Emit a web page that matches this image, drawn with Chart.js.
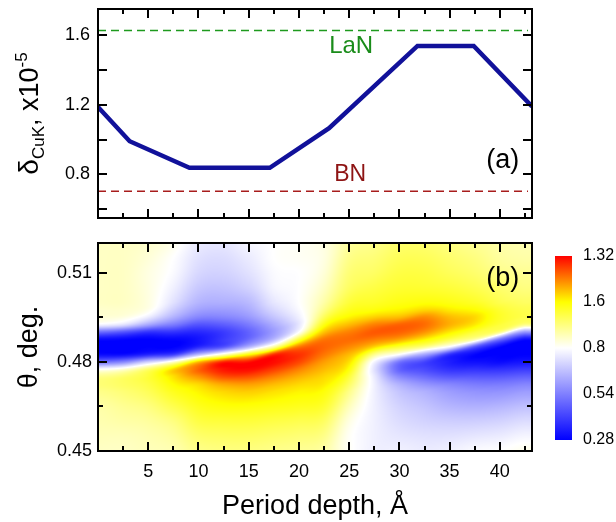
<!DOCTYPE html>
<html><head><meta charset="utf-8">
<script src="https://cdn.jsdelivr.net/npm/chart.js@4.4.1/dist/chart.umd.min.js"></script>
<style>
html,body{margin:0;padding:0;background:#fff;}
#wrap{position:relative;width:616px;height:522px;overflow:hidden;background:#fff;}
canvas{position:absolute;}
</style></head><body>
<div id="wrap">
<canvas id="cA" width="616" height="232" style="left:0;top:0;width:616px;height:232px"></canvas>
<canvas id="cB" width="616" height="290" style="left:0;top:232px;width:616px;height:290px"></canvas>
<canvas id="cC" width="76" height="220" style="left:540px;top:240px;width:76px;height:220px"></canvas>
</div>
<script>
// ---------- data: panel (a) ----------
const depth = [0, 3.15, 9.1, 17.1, 23.0, 31.8, 37.4, 43.2];
const delta = [1.187, 0.991, 0.838, 0.838, 1.066, 1.538, 1.538, 1.19];
const refNames = ['LaN', 'BN'];
const refDelta = [1.627, 0.703];
const refSpan = [0, 42.8];

// ---------- axes ticks ----------
const xTicks = [2.5, 5, 7.5, 10, 12.5, 15, 17.5, 20, 22.5, 25, 27.5, 30, 32.5, 35, 37.5, 40, 42.5];
const xLabels = ['', '5', '', '10', '', '15', '', '20', '', '25', '', '30', '', '35', '', '40', ''];
const aYTicks = [0.6, 0.8, 1.0, 1.2, 1.4, 1.6];
const aYLabels = ['', '0.8', '', '1.2', '', '1.6'];
const bYTicks = [0.45, 0.465, 0.48, 0.495, 0.51];
const bYLabels = ['0.45', '', '0.48', '', '0.51'];

// ---------- data: panel (b) map (values read per column, rows bottom -> top) ----------
const heatX = [0, 2.5, 5, 7.5, 10, 12.5, 15, 17.5, 20, 22.5, 25, 27.5, 30, 32.5, 35, 37.5, 40, 42.5];
const heatY = [0.450, 0.455, 0.460, 0.465, 0.470, 0.4725, 0.475, 0.4775, 0.480, 0.4825, 0.485,
               0.4875, 0.490, 0.4925, 0.495, 0.4975, 0.500, 0.505, 0.510, 0.515, 0.520];
const heatCols = [
  [0.86, 0.87, 0.88, 0.89, 0.92, 0.94, 0.92, 0.80, 0.50, 0.30, 0.28, 0.30, 0.50, 0.78, 0.84, 0.85, 0.86, 0.86, 0.86, 0.86, 0.86],
  [0.86, 0.87, 0.89, 0.91, 0.94, 0.96, 0.95, 0.84, 0.55, 0.30, 0.28, 0.29, 0.45, 0.74, 0.83, 0.85, 0.86, 0.86, 0.86, 0.86, 0.86],
  [0.87, 0.88, 0.90, 0.93, 0.97, 0.99, 1.00, 0.95, 0.70, 0.35, 0.28, 0.28, 0.38, 0.62, 0.76, 0.82, 0.83, 0.83, 0.83, 0.84, 0.85],
  [0.88, 0.90, 0.93, 0.98, 1.03, 1.06, 1.09, 1.10, 0.85, 0.40, 0.28, 0.29, 0.38, 0.53, 0.64, 0.70, 0.74, 0.77, 0.79, 0.80, 0.82],
  [0.92, 0.95, 0.99, 1.03, 1.07, 1.10, 1.17, 1.22, 1.12, 0.65, 0.36, 0.32, 0.36, 0.45, 0.55, 0.61, 0.65, 0.69, 0.72, 0.74, 0.76],
  [0.93, 0.96, 1.00, 1.05, 1.10, 1.15, 1.24, 1.30, 1.28, 0.85, 0.45, 0.40, 0.40, 0.47, 0.55, 0.60, 0.64, 0.68, 0.71, 0.73, 0.75],
  [0.93, 0.96, 1.00, 1.05, 1.11, 1.16, 1.24, 1.31, 1.30, 1.05, 0.65, 0.50, 0.48, 0.53, 0.59, 0.63, 0.66, 0.71, 0.74, 0.76, 0.78],
  [0.92, 0.95, 0.99, 1.04, 1.09, 1.13, 1.19, 1.26, 1.31, 1.27, 0.90, 0.66, 0.60, 0.63, 0.68, 0.72, 0.75, 0.78, 0.79, 0.80, 0.80],
  [0.91, 0.94, 0.98, 1.03, 1.07, 1.10, 1.14, 1.19, 1.25, 1.27, 1.20, 1.00, 0.80, 0.75, 0.77, 0.79, 0.80, 0.80, 0.80, 0.81, 0.81],
  [0.89, 0.92, 0.96, 1.01, 1.05, 1.08, 1.10, 1.13, 1.16, 1.20, 1.22, 1.20, 1.12, 1.04, 0.97, 0.92, 0.89, 0.86, 0.84, 0.83, 0.83],
  [0.81, 0.81, 0.83, 0.87, 0.92, 0.96, 1.00, 1.05, 1.09, 1.13, 1.18, 1.21, 1.19, 1.13, 1.07, 1.03, 1.00, 0.96, 0.94, 0.92, 0.90],
  [0.77, 0.77, 0.77, 0.77, 0.77, 0.77, 0.76, 0.74, 0.78, 0.92, 1.10, 1.19, 1.23, 1.19, 1.11, 1.05, 1.02, 0.99, 0.96, 0.94, 0.92],
  [0.77, 0.75, 0.73, 0.71, 0.68, 0.64, 0.56, 0.48, 0.52, 0.80, 1.00, 1.15, 1.22, 1.22, 1.13, 1.07, 1.04, 1.01, 0.99, 0.97, 0.95],
  [0.76, 0.74, 0.71, 0.68, 0.64, 0.58, 0.50, 0.43, 0.42, 0.62, 0.92, 1.07, 1.17, 1.21, 1.18, 1.10, 1.05, 1.01, 0.99, 0.97, 0.95],
  [0.77, 0.74, 0.70, 0.65, 0.60, 0.55, 0.46, 0.38, 0.34, 0.38, 0.78, 0.98, 1.08, 1.14, 1.13, 1.08, 1.04, 1.00, 0.97, 0.95, 0.93],
  [0.79, 0.75, 0.70, 0.64, 0.58, 0.53, 0.46, 0.38, 0.31, 0.29, 0.45, 0.88, 1.00, 1.08, 1.10, 1.06, 1.02, 0.98, 0.95, 0.93, 0.91],
  [0.80, 0.76, 0.71, 0.65, 0.58, 0.53, 0.46, 0.38, 0.30, 0.28, 0.29, 0.50, 0.92, 1.00, 1.02, 1.01, 0.98, 0.95, 0.92, 0.90, 0.89],
  [0.82, 0.78, 0.73, 0.67, 0.60, 0.55, 0.48, 0.40, 0.32, 0.28, 0.28, 0.30, 0.58, 0.92, 0.98, 0.98, 0.96, 0.93, 0.91, 0.89, 0.88]
];
// drift of the main ridge/edge of the map from column to column
const ridgeY = [0.4774, 0.4781, 0.4790, 0.4802, 0.4818, 0.4828, 0.4840, 0.4860, 0.4882,
                0.4906, 0.4930, 0.4953, 0.4969, 0.4983, 0.4998, 0.5013, 0.5034, 0.5057];

// ---------- colour scale ----------
const cbTicks = [0.28, 0.54, 0.8, 1.06, 1.32];
const cbLabels = ['0.28', '0.54', '0.8', '1.6', '1.32'];
const cbStops = [0.28, 0.8, 1.06, 1.32];
const cbColors = [[0, 0, 255], [255, 255, 255], [255, 255, 0], [255, 0, 0]];

// ---------- helpers ----------
const FONT = "'Liberation Sans', Arial, Helvetica, sans-serif";
Chart.defaults.font.family = FONT;
Chart.defaults.color = '#000';
Chart.defaults.animation = false;

function fixAxis(width, height) {
  return s => {
    if (width != null) s.width = width;
    if (height != null) s.height = height;
    s.paddingTop = 0; s.paddingBottom = 0; s.paddingLeft = 0; s.paddingRight = 0;
  };
}
function setTicks(arr) { return s => { s.ticks = arr.map(v => ({ value: v })); }; }

function colorOf(v) {
  if (v <= cbStops[0]) return cbColors[0];
  const n = cbStops.length;
  if (v >= cbStops[n - 1]) return cbColors[n - 1];
  let k = 0;
  while (v > cbStops[k + 1]) k++;
  const t = (v - cbStops[k]) / (cbStops[k + 1] - cbStops[k]);
  const a = cbColors[k], b = cbColors[k + 1];
  return [a[0] + (b[0] - a[0]) * t, a[1] + (b[1] - a[1]) * t, a[2] + (b[2] - a[2]) * t];
}
function fracIndex(arr, v) {
  const n = arr.length;
  if (v <= arr[0]) return 0;
  if (v >= arr[n - 1]) return n - 1;
  let i = 0;
  while (arr[i + 1] < v) i++;
  return i + (v - arr[i]) / (arr[i + 1] - arr[i]);
}
function cr(p0, p1, p2, p3, t) {
  return 0.5 * (2 * p1 + (-p0 + p2) * t + (2 * p0 - 5 * p1 + 4 * p2 - p3) * t * t + (-p0 + 3 * p1 - 3 * p2 + p3) * t * t * t);
}

// ---------- plugins ----------
const framePlugin = {
  id: 'frame',
  afterDatasetsDraw(chart, args, o) {
    if (!o || !o.xTicks) return;
    const { ctx, chartArea: a } = chart;
    const sx = chart.scales.x, sy = chart.scales.y;
    ctx.save();
    ctx.strokeStyle = '#000';
    ctx.lineWidth = 2;
    ctx.beginPath();
    o.xTicks.forEach((v, i) => {
      const p = Math.round(sx.getPixelForValue(v));
      const L = o.xMajor(i) ? 9 : 5;
      ctx.moveTo(p, a.top); ctx.lineTo(p, a.top + L);
      ctx.moveTo(p, a.bottom); ctx.lineTo(p, a.bottom - L);
    });
    o.yTicks.forEach((v, i) => {
      const p = Math.round(sy.getPixelForValue(v));
      const L = o.yMajor(i) ? 9 : 5;
      ctx.moveTo(a.left, p); ctx.lineTo(a.left + L, p);
      ctx.moveTo(a.right, p); ctx.lineTo(a.right - L, p);
    });
    ctx.stroke();
    ctx.strokeRect(a.left, a.top, a.right - a.left, a.bottom - a.top);
    ctx.restore();
  }
};

const textPlugin = {
  id: 'texts',
  afterDraw(chart, args, o) {
    if (!o || !o.items) return;
    const ctx = chart.ctx;
    ctx.save();
    ctx.textAlign = 'center';
    ctx.textBaseline = 'middle';
    o.items.forEach(it => {
      ctx.font = it.size + 'px ' + FONT;
      ctx.fillStyle = it.color;
      ctx.fillText(it.text, chart.scales.x.getPixelForValue(it.x), chart.scales.y.getPixelForValue(it.y));
    });
    if (o.rotTitle) {
      const r = o.rotTitle;
      const a = chart.chartArea;
      let total = 0;
      r.runs.forEach(run => { ctx.font = run.size + 'px ' + FONT; run.w = ctx.measureText(run.text).width; total += run.w; });
      ctx.translate(r.x, (a.top + a.bottom) / 2);
      ctx.rotate(-Math.PI / 2);
      ctx.textAlign = 'left';
      ctx.textBaseline = 'alphabetic';
      ctx.fillStyle = '#000';
      let cx = -total / 2;
      r.runs.forEach(run => {
        ctx.font = run.size + 'px ' + FONT;
        ctx.fillText(run.text, cx, r.base + run.dy);
        cx += run.w;
      });
    }
    ctx.restore();
  }
};

const heatPlugin = {
  id: 'heat',
  beforeDatasetsDraw(chart) {
    const { ctx, chartArea: a } = chart;
    const sx = chart.scales.x, sy = chart.scales.y;
    const w = Math.round(a.right - a.left), h = Math.round(a.bottom - a.top);
    const off = document.createElement('canvas');
    off.width = w; off.height = h;
    const octx = off.getContext('2d');
    const img = octx.createImageData(w, h);
    const nC = heatX.length, nR = heatY.length;
    const clampC = c => Math.min(nC - 1, Math.max(0, c));
    const clampR = r => Math.min(nR - 1, Math.max(0, r));
    const colAt = (c, yv) => {
      const col = heatCols[c];
      const fy = fracIndex(heatY, yv);
      const r = Math.min(Math.floor(fy), nR - 2), t = fy - r;
      return cr(col[clampR(r - 1)], col[r], col[r + 1], col[clampR(r + 2)], t);
    };
    for (let i = 0; i < w; i++) {
      const xv = sx.getValueForPixel(a.left + i + 0.5);
      const fx = fracIndex(heatX, xv);
      const c = Math.min(Math.floor(fx), nC - 2), tx = fx - c;
      const cs = [clampC(c - 1), c, c + 1, clampC(c + 2)];
      const ridge = cr(ridgeY[cs[0]], ridgeY[cs[1]], ridgeY[cs[2]], ridgeY[cs[3]], tx);
      for (let j = 0; j < h; j++) {
        const yv = sy.getValueForPixel(a.top + j + 0.5);
        const v = cr(
          colAt(cs[0], yv - ridge + ridgeY[cs[0]]),
          colAt(cs[1], yv - ridge + ridgeY[cs[1]]),
          colAt(cs[2], yv - ridge + ridgeY[cs[2]]),
          colAt(cs[3], yv - ridge + ridgeY[cs[3]]), tx);
        const col = colorOf(v);
        const p = (j * w + i) * 4;
        img.data[p] = col[0]; img.data[p + 1] = col[1]; img.data[p + 2] = col[2]; img.data[p + 3] = 255;
      }
    }
    octx.putImageData(img, 0, 0);
    ctx.drawImage(off, a.left, a.top);
  }
};

const isLabelled = labels => i => labels[i] !== '';

// ---------- chart (a) ----------
new Chart(document.getElementById('cA'), {
  type: 'line',
  data: {
    datasets: [
      { data: depth.map((d, i) => ({ x: d, y: delta[i] })), borderColor: '#11119a', borderWidth: 4.5, pointRadius: 0, tension: 0 },
      { data: refSpan.map(x => ({ x, y: refDelta[0] })), borderColor: '#1e9a1e', borderWidth: 1.5, borderDash: [8, 5], pointRadius: 0 },
      { data: refSpan.map(x => ({ x, y: refDelta[1] })), borderColor: '#a81c1c', borderWidth: 1.5, borderDash: [8, 5], pointRadius: 0 }
    ]
  },
  options: {
    responsive: false, events: [],
    layout: { padding: { left: 0, right: 84, top: 9, bottom: 14 }, autoPadding: false },
    plugins: {
      legend: { display: false }, tooltip: { enabled: false },
      frame: { xTicks: xTicks, xMajor: isLabelled(xLabels), yTicks: aYTicks, yMajor: () => true },
      texts: {
        items: [
          { text: refNames[0], x: 25.2, y: 1.535, size: 24, color: '#1a8c1a' },
          { text: refNames[1], x: 25.1, y: 0.80, size: 23, color: '#8e1414' },
          { text: '(a)', x: 40.3, y: 0.88, size: 27, color: '#000' }
        ],
        rotTitle: {
          x: 30, base: 8,
          runs: [
            { text: 'δ', size: 28, dy: 0 },
            { text: 'CuK', size: 17, dy: 6 },
            { text: ', x10', size: 27, dy: 0 },
            { text: '-5', size: 17, dy: -11 }
          ]
        }
      }
    },
    scales: {
      x: { type: 'linear', min: 0, max: 43.2, display: false },
      y: {
        type: 'linear', min: 0.55, max: 1.75,
        afterBuildTicks: setTicks(aYTicks),
        afterFit: fixAxis(98, null),
        grid: { display: false, drawTicks: false }, border: { display: false },
        ticks: { padding: 8, font: { size: 18 }, callback: (v, i) => aYLabels[i] }
      }
    }
  },
  plugins: [framePlugin, textPlugin]
});

// ---------- chart (b) ----------
new Chart(document.getElementById('cB'), {
  type: 'scatter',
  data: {
    datasets: [{
      data: heatX.flatMap((x, c) => heatY.map((y, r) => ({ x, y, v: heatCols[c][r] }))),
      pointRadius: 0, showLine: false
    }]
  },
  options: {
    responsive: false, events: [],
    layout: { padding: { left: 0, right: 84, top: 11, bottom: 0 }, autoPadding: false },
    plugins: {
      legend: { display: false }, tooltip: { enabled: false },
      frame: { xTicks: xTicks, xMajor: isLabelled(xLabels), yTicks: bYTicks, yMajor: isLabelled(bYLabels) },
      texts: { items: [{ text: '(b)', x: 40.3, y: 0.508, size: 27, color: '#000' }] }
    },
    scales: {
      x: {
        type: 'linear', min: 0, max: 43.2,
        afterBuildTicks: setTicks(xTicks),
        afterFit: fixAxis(null, 71),
        grid: { display: false, drawTicks: false }, border: { display: false },
        ticks: { padding: 10, font: { size: 18 }, autoSkip: false, maxRotation: 0, callback: (v, i) => xLabels[i] },
        title: { display: true, text: 'Period depth, Å', font: { size: 27, lineHeight: 1 }, padding: { top: 0, bottom: 2 } }
      },
      y: {
        type: 'linear', min: 0.45, max: 0.52,
        afterBuildTicks: setTicks(bYTicks),
        afterFit: fixAxis(98, null),
        grid: { display: false, drawTicks: false }, border: { display: false },
        ticks: { padding: 6, font: { size: 18 }, callback: (v, i) => bYLabels[i] },
        title: { display: true, text: 'θ, deg.', font: { size: 27, lineHeight: 1 }, padding: { top: 16, bottom: 0 } }
      }
    }
  },
  plugins: [heatPlugin, framePlugin, textPlugin]
});

// ---------- colour bar ----------
new Chart(document.getElementById('cC'), {
  type: 'bar',
  data: {
    labels: [''],
    datasets: [{
      data: [[cbTicks[0], cbTicks[cbTicks.length - 1]]],
      borderWidth: 0, barPercentage: 1, categoryPercentage: 1,
      backgroundColor: context => {
        const { chart } = context;
        const a = chart.chartArea;
        if (!a) return '#fff';
        const sy = chart.scales.y;
        const g = chart.ctx.createLinearGradient(0, sy.getPixelForValue(cbStops[0]), 0, sy.getPixelForValue(cbStops[cbStops.length - 1]));
        const lo = cbStops[0], hi = cbStops[cbStops.length - 1];
        cbStops.forEach((v, k) => g.addColorStop((v - lo) / (hi - lo), 'rgb(' + cbColors[k].join(',') + ')'));
        return g;
      }
    }]
  },
  options: {
    responsive: false, events: [],
    layout: { padding: { left: 15, right: 0, top: 16, bottom: 20 }, autoPadding: false },
    plugins: { legend: { display: false }, tooltip: { enabled: false } },
    scales: {
      x: { display: false },
      y: {
        position: 'right', type: 'linear', min: cbTicks[0], max: cbTicks[cbTicks.length - 1],
        afterBuildTicks: setTicks(cbTicks),
        afterFit: fixAxis(44, null),
        grid: { display: false, drawTicks: false }, border: { display: false },
        ticks: { padding: 11, font: { size: 16 }, callback: (v, i) => cbLabels[i] }
      }
    }
  }
});
</script>
</body></html>
